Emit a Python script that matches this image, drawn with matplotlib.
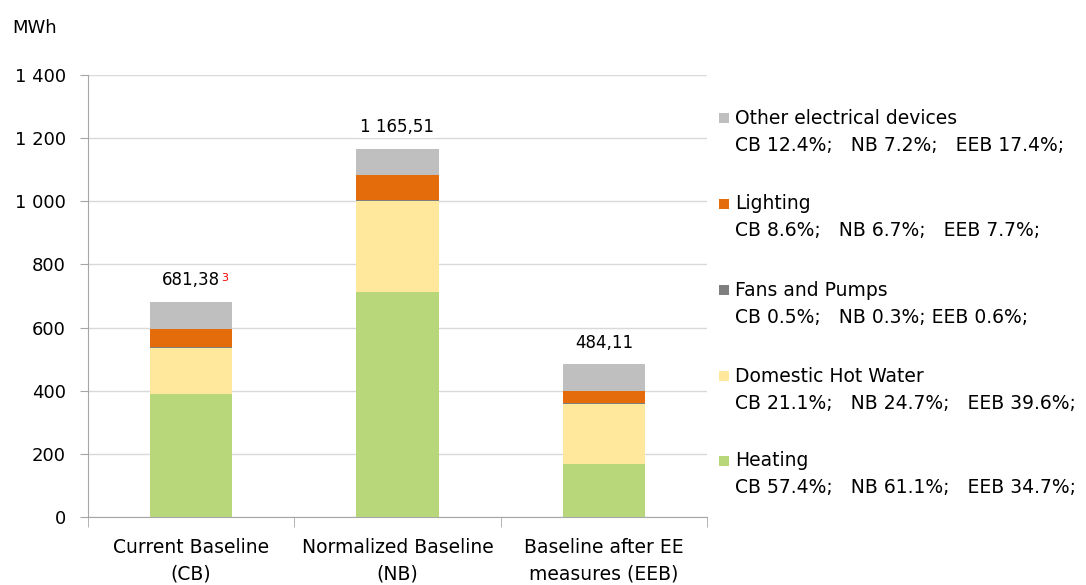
import matplotlib.pyplot as plt
from matplotlib.patches import Rectangle
from matplotlib.ticker import FuncFormatter
import numpy as np

# Scenarios and their total consumption (MWh)
scenarios = ["Current Baseline\n(CB)", "Normalized Baseline\n(NB)", "Baseline after EE\nmeasures (EEB)"]
short = ["CB", "NB", "EEB"]
totals = [681.38, 1165.51, 484.11]
total_labels = ["681,38", "1 165,51", "484,11"]

# Share of each end use in every scenario (%)
end_uses = ["Heating", "Domestic Hot Water", "Fans and Pumps", "Lighting", "Other electrical devices"]
heating = [57.4, 61.1, 34.7]
hot_water = [21.1, 24.7, 39.6]
fans_pumps = [0.5, 0.3, 0.6]
lighting = [8.6, 6.7, 7.7]
other = [12.4, 7.2, 17.4]
shares = [heating, hot_water, fans_pumps, lighting, other]
colors = ["#B8D77A", "#FFE89B", "#7F7F7F", "#E46C0A", "#BFBFBF"]

plt.rcParams['font.family'] = ['DejaVu Sans']
fig = plt.figure(figsize=(10.86, 5.85), dpi=100)
ax = fig.add_axes([0.081, 0.116, 0.570, 0.756])

x = np.arange(len(scenarios))
bottom = np.zeros(len(scenarios))
for name, pct, col in zip(end_uses, shares, colors):
    vals = np.array(totals) * np.array(pct) / 100
    ax.bar(x, vals, bottom=bottom, width=0.40, color=col, zorder=3)
    bottom += vals

# Totals above each stack
for xi, t, lab in zip(x, totals, total_labels):
    txt = ax.text(xi, t + 40, lab, ha="center", va="bottom", fontsize=12,
                  bbox=dict(facecolor="white", edgecolor="none", pad=1), zorder=4)
    if xi == 0:
        ax.annotate("3", xy=(1, 1), xycoords=txt, xytext=(0.5, -1.5), textcoords="offset points",
                    ha="left", va="top", fontsize=8, color="red", zorder=5)

ax.set_xlim(-0.5, 2.5)
ax.set_ylim(0, 1400)
ax.set_yticks(np.arange(0, 1401, 200))
ax.yaxis.set_major_formatter(FuncFormatter(lambda v, p: f"{int(v):,}".replace(",", " ")))
ax.set_xticks(x)
ax.set_xticklabels(scenarios, fontsize=13.5, linespacing=1.5)
ax.set_xticks([-0.5, 0.5, 1.5, 2.5], minor=True)
ax.tick_params(axis="x", which="major", length=0, pad=15)
ax.tick_params(axis="x", which="minor", length=7, color="#A6A6A6")
ax.tick_params(axis="y", length=6, color="#A6A6A6", labelsize=13, pad=10)
ax.grid(axis="y", color="#D9D9D9", linewidth=1, zorder=0)
for s in ["top", "right"]:
    ax.spines[s].set_visible(False)
for s in ["left", "bottom"]:
    ax.spines[s].set_color("#A6A6A6")

fig.text(0.011, 0.952, "MWh", fontsize=13, va="center")

# Legend drawn as text blocks, top entry first
legend_y = [0.798, 0.652, 0.504, 0.357, 0.212]
seps = [(";   ", ";   "), (";   ", ";   "), (";   ", "; "), (";   ", ";   "), (";   ", ";   ")]
for yy, name, pct, col, sp in zip(legend_y, end_uses[::-1], shares[::-1], colors[::-1], seps[::-1]):
    fig.patches.append(Rectangle((0.662, yy - 0.009), 0.0095, 0.0175, transform=fig.transFigure,
                                 facecolor=col, edgecolor="none"))
    fig.text(0.677, yy, name, fontsize=13.5, va="center")
    line = f"{short[0]} {pct[0]}%{sp[0]}{short[1]} {pct[1]}%{sp[1]}{short[2]} {pct[2]}%;"
    fig.text(0.677, yy - 0.046, line, fontsize=13.5, va="center")

fig.savefig("out.png", dpi=100)
